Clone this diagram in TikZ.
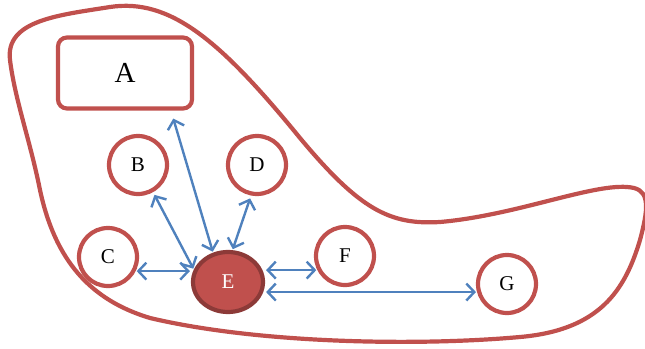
\documentclass[tikz,border=0pt]{standalone}
\usepackage{fontspec}
\setmainfont{Liberation Serif}
\usetikzlibrary{arrows.meta,shapes.geometric,calc}
\definecolor{accred}{HTML}{C0504D}
\definecolor{darkred}{HTML}{8C3A38}
\definecolor{accblue}{HTML}{4F81BD}
\begin{document}
\begin{tikzpicture}[x=1pt,y=-1pt,
  ring/.style={circle,draw=accred,line width=4.2pt,minimum size=58pt,inner sep=0pt,font=\fontsize{21}{24}\selectfont},
  boxa/.style={rectangle,rounded corners=9pt,draw=accred,line width=4.2pt,minimum width=134pt,minimum height=71pt,font=\fontsize{29}{32}\selectfont},
  enode/.style={ellipse,draw=darkred,fill=accred,line width=4.2pt,minimum width=70pt,minimum height=60pt,inner sep=0pt,text=white,font=\fontsize{21}{24}\selectfont},
  biarrow/.style={draw=accblue,line width=2.4pt,{Straight Barb[length=8pt,width=17pt]}-{Straight Barb[length=8pt,width=17pt]}},
  blob/.style={draw=accred,line width=4.2pt}]
\useasboundingbox (0,0) rectangle (645,348);
% outline
\draw[blob] (10,60) .. controls (5,20) and (60,15) .. (110,7)
  .. controls (170,-2) and (220,40) .. (300,138)
  .. controls (360,210) and (390,225) .. (440,222)
  .. controls (520,215) and (600,180) .. (634,188)
  .. controls (650,192) and (648,210) .. (640,240)
  .. controls (625,290) and (600,330) .. (520,337)
  .. controls (420,346) and (260,344) .. (150,318)
  .. controls (90,300) and (55,260) .. (40,190)
  .. controls (30,140) and (15,100) .. (10,60) -- cycle;
% nodes
\node[boxa] (A) at (125,73) {A};
\node[ring] (B) at (138,165) {B};
\node[ring] (D) at (257,165) {D};
\node[ring] (C) at (108,257) {C};
\node[ring] (F) at (345,256) {F};
\node[ring] (G) at (507,284) {G};
\node[enode] (E) at (228,282) {E};
% connectors
\draw[biarrow,shorten <=1pt,shorten >=1pt] (E.117) -- ([xshift=48pt,yshift=-7pt]A.south);
\draw[biarrow,shorten <=1pt,shorten >=3pt] (E.160) -- (B.-61);
\draw[biarrow,shorten <=1pt,shorten >=3pt] (E.82) -- (D.-101);
\draw[biarrow,shorten <=1pt,shorten >=1pt] (C.-27) -- (C.-27 -| E.west);
\draw[biarrow,shorten <=1pt,shorten >=1pt] (F.207 -| E.east) -- (F.207);
\draw[biarrow,shorten <=1pt,shorten >=1pt] (G.195 -| E.east) -- (G.195);
\end{tikzpicture}
\end{document}
